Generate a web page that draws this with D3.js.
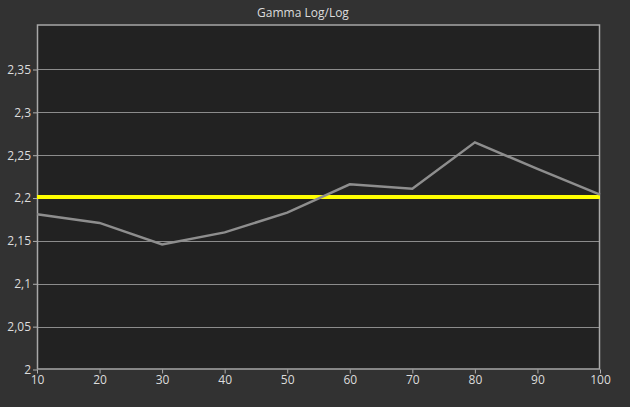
<!DOCTYPE html>
<html><head><meta charset="utf-8">
<script src="https://cdn.jsdelivr.net/npm/d3@7"></script>
<style>html,body{margin:0;padding:0;background:#323232;}svg{display:block;}</style>
</head><body>
<script>
const title = "Gamma Log/Log";
const xValues = [10, 20, 30, 40, 50, 60, 70, 80, 90, 100];
const gammaValues = [2.181, 2.171, 2.146, 2.160, 2.183, 2.216, 2.211, 2.265, 2.234, 2.204];
const targetGamma = 2.2;
const yTicks = [2, 2.05, 2.1, 2.15, 2.2, 2.25, 2.3, 2.35];
const xTicks = [10, 20, 30, 40, 50, 60, 70, 80, 90, 100];

const W = 630, H = 407;
const m = {left: 37, right: 30, top: 24.5, bottom: 37.5};
const svg = d3.select("body").append("svg").attr("width", W).attr("height", H);
svg.append("rect").attr("width", W).attr("height", H).attr("fill", "#323232");

const x = d3.scaleLinear().domain([10, 100]).range([m.left, W - m.right]);
const y = d3.scaleLinear().domain([2, 2.4025]).range([H - m.bottom, m.top]);

svg.append("rect").attr("x", m.left).attr("y", m.top)
  .attr("width", W - m.left - m.right).attr("height", H - m.top - m.bottom)
  .attr("fill", "#222222");

const fmt = d => String(d).replace(".", ",");
const font = "'Open Sans', 'Noto Sans', sans-serif";

// y axis with gridlines
const yAxis = svg.append("g").attr("transform", `translate(${m.left},0)`)
  .call(d3.axisLeft(y).tickValues(yTicks).tickFormat(fmt).tickSize(4).tickPadding(2));
yAxis.select(".domain").remove();
yAxis.selectAll("line").attr("stroke", "#b0b0b0");
yAxis.selectAll("text").attr("fill", "#dcdcdc").style("font-family", font).style("font-size", "12px");

svg.append("g").selectAll("line").data(yTicks.filter(d => d > 2)).join("line")
  .attr("x1", m.left).attr("x2", W - m.right)
  .attr("y1", d => Math.round(y(d)) + 0.5).attr("y2", d => Math.round(y(d)) + 0.5)
  .attr("stroke", "#8c8c8c").attr("stroke-width", 1);

const xAxis = svg.append("g").attr("transform", `translate(0,${H - m.bottom})`)
  .call(d3.axisBottom(x).tickValues(xTicks).tickFormat(d3.format("d")).tickSize(4).tickPadding(2));
xAxis.select(".domain").remove();
xAxis.selectAll("line").attr("stroke", "#b0b0b0");
xAxis.selectAll("text").attr("fill", "#dcdcdc").style("font-family", font).style("font-size", "12px");

// plot frame
svg.append("rect").attr("x", m.left + 0.5).attr("y", m.top + 0.5)
  .attr("width", W - m.left - m.right - 1).attr("height", H - m.top - m.bottom - 1)
  .attr("fill", "none").attr("stroke", "#a8a8a8").attr("stroke-width", 1.5);

// target line
svg.append("line").attr("x1", x(10)).attr("x2", x(100))
  .attr("y1", y(targetGamma) - 1).attr("y2", y(targetGamma) - 1)
  .attr("stroke", "#ffff00").attr("stroke-width", 4);

// data line
const line = d3.line().x((d, i) => x(xValues[i])).y(d => y(d));
svg.append("path").datum(gammaValues).attr("d", line)
  .attr("fill", "none").attr("stroke", "#8e8e8e").attr("stroke-width", 2.5)
  .attr("stroke-linejoin", "miter");

svg.append("text").attr("x", 303).attr("y", 17).attr("text-anchor", "middle")
  .attr("fill", "#dcdcdc").style("font-family", font).style("font-size", "12px")
  .text(title);
</script>
</body></html>
